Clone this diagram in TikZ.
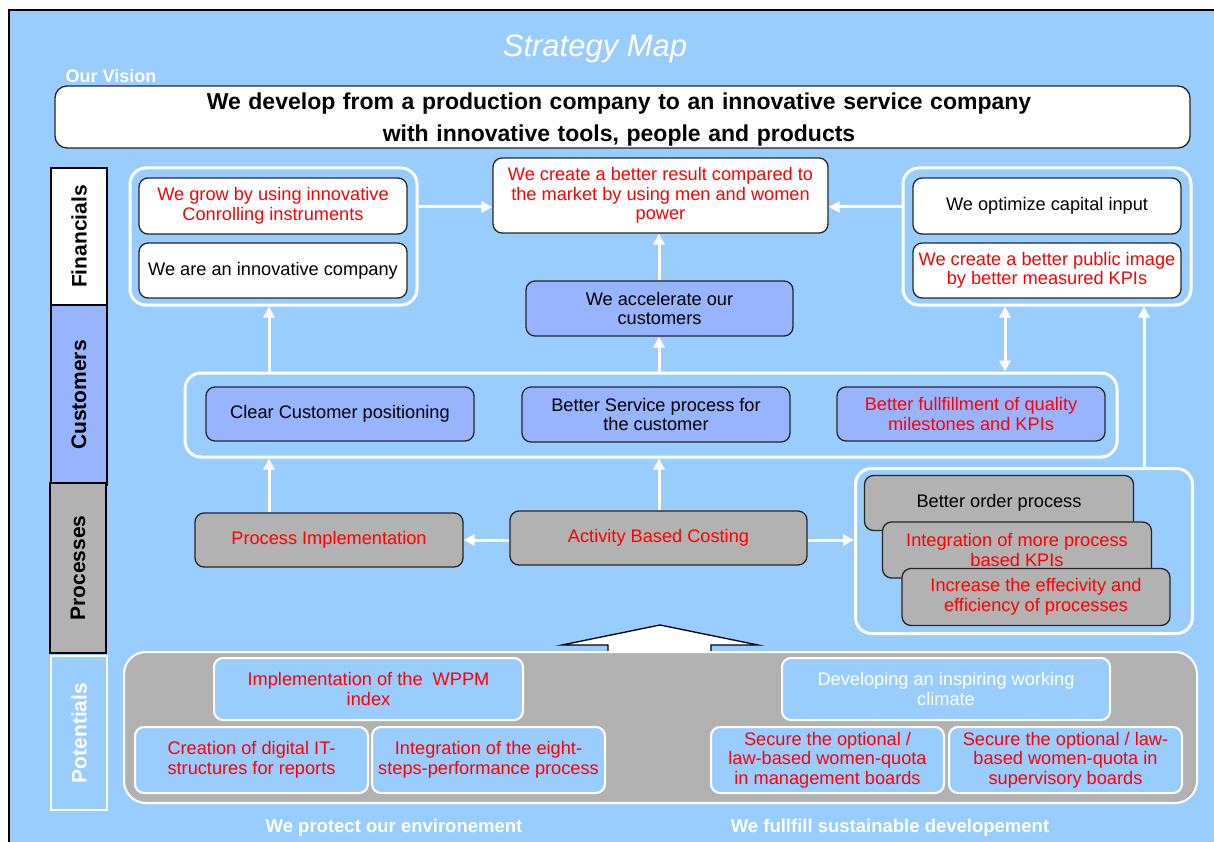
\documentclass[tikz,border=0pt]{standalone}
\usepackage{fontspec}
\setmainfont{Liberation Sans}
\usetikzlibrary{arrows.meta}
\definecolor{bgblue}{HTML}{99CCFF}
\definecolor{custblue}{HTML}{99B4FF}
\definecolor{boxgrey}{HTML}{B2B2B2}
\definecolor{edge}{HTML}{262626}
\definecolor{txtred}{HTML}{FF0000}
\tikzset{
  box/.style={draw=edge, line width=1.3pt, rounded corners=9pt, align=center,
    font=\fontsize{18.2}{19.5}\selectfont, inner sep=0pt},
  wbox/.style={box, fill=white},
  cbox/.style={box, fill=custblue},
  gbox/.style={box, fill=boxgrey},
  potbox/.style={box, draw=white, line width=2pt, fill=bgblue},
  grp/.style={draw=white, line width=3pt, rounded corners=16pt, inner sep=0pt},
  arr/.style={draw=white, line width=3pt, -{Triangle[width=11pt,length=11pt]}},
  dblarr/.style={draw=white, line width=3pt, {Triangle[width=11pt,length=11pt]}-{Triangle[width=11pt,length=11pt]}},
  lane/.style={line width=1.3pt, inner sep=0pt},
  lanetxt/.style={rotate=90, font=\fontsize{21}{24}\selectfont\bfseries},
  foot/.style={text=white, font=\fontsize{18.5}{20}\selectfont\bfseries}
}
\begin{document}
\begin{tikzpicture}[x=1pt,y=-1pt]
\useasboundingbox (0,0) rectangle (1214,842);
% canvas
\fill[bgblue] (9,10) rectangle (1220,850);
\draw[black, line width=1.5pt] (9,850) -- (9,10) -- (1220,10);

% headings
\node[text=white, font=\fontsize{31}{34}\selectfont\itshape] (title) at (595,49) {Strategy Map};
\node[text=white, font=\fontsize{18}{20}\selectfont\bfseries] (visionlbl) at (111,76) {Our Vision};
\node[wbox, rounded corners=12pt, minimum width=1135pt, minimum height=62pt] (vision) at (622.5,117) {};
\node[align=center, inner sep=0pt, font=\fontsize{23}{32}\selectfont\bfseries] (visiontxt) at (619,120)
  {\spaceskip=0.33em We develop from a production company to an innovative service company\\
   \spaceskip=0.33em with innovative tools, people and products};

% perspective lanes
\node[lane, draw=black, fill=white, minimum width=56pt, minimum height=137pt] (lf) at (79,236.5) {};
\node[lane, draw=black, fill=custblue, minimum width=56pt, minimum height=180pt] (lc) at (79,395) {};
\node[lane, draw=black, fill=boxgrey, minimum width=56pt, minimum height=170pt] (lp) at (78,568) {};
\node[lane, draw=white, fill=bgblue, minimum width=56pt, minimum height=154pt] (lpot) at (79,733) {};
\node[lanetxt] (lftxt) at (lf) {Financials};
\node[lanetxt] (lctxt) at (lc) {Customers};
\node[lanetxt] (lptxt) at (lp) {Processes};
\node[lanetxt, text=white] (lpottxt) at (lpot) {Potentials};

% financials
\node[grp, minimum width=287pt, minimum height=137pt] (fg1) at (273.5,236.5) {};
\node[grp, minimum width=288pt, minimum height=137pt] (fg2) at (1047,236.5) {};
\node[wbox, minimum width=268pt, minimum height=56pt, text=txtred] (f1) at (273,206)
  {We grow by using innovative\\Conrolling instruments};
\node[wbox, minimum width=268pt, minimum height=55pt] (f2) at (273,270.5)
  {We are an innovative company};
\node[wbox, minimum width=335pt, minimum height=75pt, text=txtred] (fc) at (660.5,195.5)
  {We create a better result compared to\\the market by using men and women\\power};
\node[wbox, minimum width=268pt, minimum height=56pt] (f3) at (1047,206)
  {We optimize capital input};
\node[wbox, minimum width=268pt, minimum height=55pt, text=txtred] (f4) at (1047,270.5)
  {We create a better public image\\by better measured KPIs};
\node[cbox, minimum width=267pt, minimum height=55pt] (acc) at (659.5,308.5)
  {We accelerate our\\customers};

% customers
\node[grp, minimum width=932pt, minimum height=84pt] (cg) at (651,415) {};
\node[cbox, minimum width=268pt, minimum height=54pt] (c1) at (340,414)
  {Clear Customer positioning};
\node[cbox, minimum width=268pt, minimum height=55pt] (c2) at (656,414.5)
  {Better Service process for\\the customer};
\node[cbox, minimum width=268pt, minimum height=54pt, text=txtred] (c3) at (971,414)
  {Better fullfillment of quality\\milestones and KPIs};

% processes
\node[gbox, minimum width=268pt, minimum height=54pt, text=txtred] (p1) at (329,540)
  {Process Implementation};
\node[gbox, minimum width=297pt, minimum height=54pt, text=txtred] (p2) at (658.5,538)
  {Activity Based Costing};
\node[grp, minimum width=337pt, minimum height=165pt] (pg) at (1024,551) {};
\node[gbox, minimum width=269pt, minimum height=55pt] (p3) at (999,503)
  {Better order process};
\node[gbox, minimum width=269pt, minimum height=56pt, text=txtred] (p4) at (1017,550)
  {Integration of more process\\based KPIs};
\node[gbox, minimum width=268pt, minimum height=57pt, text=txtred] (p5) at (1036,597)
  {Increase the effecivity and\\efficiency of processes};

% helper positions for connectors
\coordinate (ya) at (0,207);
\coordinate (yb) at (0,540);
\coordinate (xa) at (269,0);
\coordinate (xb) at (659,0);
\coordinate (xc) at (1005,0);
\coordinate (xd) at (1144,0);

% connectors
\draw[arr] (fg1.east |- ya) -- (fc.west |- ya);
\draw[arr] (fg2.west |- ya) -- (fc.east |- ya);
\draw[arr] (xb |- acc.north) -- (xb |- fc.south);
\draw[arr] (xa |- cg.north) -- (xa |- fg1.south);
\draw[arr] (xb |- cg.north) -- (xb |- acc.south);
\draw[dblarr] (xc |- fg2.south) -- (xc |- cg.north);
\draw[arr] (xd |- pg.north) -- (xd |- fg2.south);
\draw[arr] (xa |- p1.north) -- (xa |- cg.south);
\draw[arr] (xb |- p2.north) -- (xb |- cg.south);
\draw[arr] (p2.west |- yb) -- (p1.east |- yb);
\draw[arr] (p2.east |- yb) -- (pg.west |- yb);

% upward block arrow from the potentials
\filldraw[fill=white, draw=black, line width=1.3pt, line join=miter]
  (660,625) -- (758,645) -- (711,645) -- (711,665) -- (608,665) -- (608,645) -- (562,645) -- cycle;

% potentials
\node[grp, fill=boxgrey, rounded corners=22pt, line width=2pt, minimum width=1073pt, minimum height=151pt] (potg) at (660.5,727.5) {};
\node[potbox, minimum width=309pt, minimum height=62pt, text=txtred] (q1) at (368.5,689)
  {Implementation of the\ \ WPPM\\index};
\node[potbox, minimum width=233pt, minimum height=66pt, text=txtred] (q2) at (251.5,760)
  {Creation of digital IT-\\structures for reports};
\node[potbox, minimum width=233pt, minimum height=66pt, text=txtred] (q3) at (488.5,760)
  {Integration of the eight-\\steps-performance process};
\node[potbox, minimum width=328pt, minimum height=62pt, text=white] (q4) at (946,689)
  {Developing an inspiring working\\climate};
\node[potbox, minimum width=233pt, minimum height=66pt, text=txtred] (q5) at (827.5,760)
  {Secure the optional /\\law-based women-quota\\in management boards};
\node[potbox, minimum width=233pt, minimum height=66pt, text=txtred] (q6) at (1065.5,760)
  {Secure the optional / law-\\based women-quota in\\supervisory boards};

\node[foot] (env) at (394,828) {We protect our environement};
\node[foot] (sus) at (890,828) {We fullfill sustainable developement};
\end{tikzpicture}
\end{document}
